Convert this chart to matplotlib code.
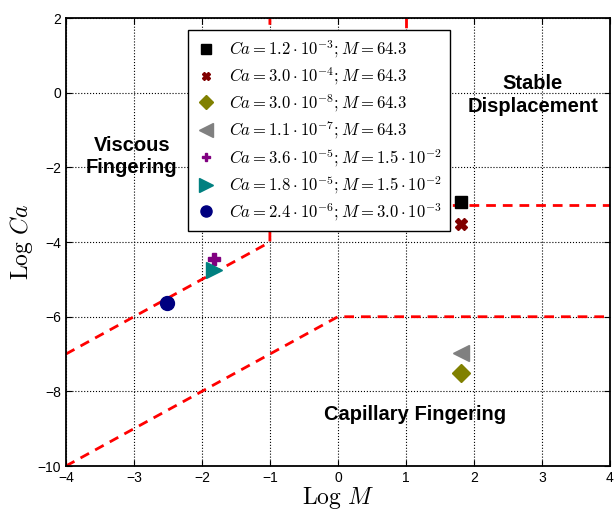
import numpy as np
import matplotlib.pyplot as plt

plt.rcParams['font.family'] = ['Liberation Sans', 'DejaVu Sans']
plt.rcParams['mathtext.fontset'] = 'cm'

# experiment points (log10 values)
logM = [1.81, 1.81, 1.81, 1.81, -1.82, -1.82, -2.52]
logCa = [-2.92, -3.52, -7.52, -6.96, -4.44, -4.74, -5.62]
labels = [r'$Ca = 1.2\cdot10^{-3}; M = 64.3$',
          r'$Ca = 3.0\cdot10^{-4}; M = 64.3$',
          r'$Ca = 3.0\cdot10^{-8}; M = 64.3$',
          r'$Ca = 1.1\cdot10^{-7}; M = 64.3$',
          r'$Ca = 3.6\cdot10^{-5}; M = 1.5\cdot10^{-2}$',
          r'$Ca = 1.8\cdot10^{-5}; M = 1.5\cdot10^{-2}$',
          r'$Ca = 2.4\cdot10^{-6}; M = 3.0\cdot10^{-3}$']
markers = ['s', 'X', 'D', '<', 'P', '>', 'o']
colors = ['black', '#800000', '#808000', '#808080', '#800080', '#008080', '#000080']
msizes = [9, 8, 9, 12, 8, 12, 10]

# regime boundaries
visc_x = [-4, -1, -1]
visc_y = [-7, -4, 2]
stab_x = [1, 1, 4]
stab_y = [2, -3, -3]
cap_x = [-4, 0, 4]
cap_y = [-10, -6, -6]

fig = plt.figure(figsize=(6.16, 5.13), dpi=100)
ax = fig.add_axes([0.107, 0.0916, 0.883, 0.873])

for bx, by in [(visc_x, visc_y), (stab_x, stab_y), (cap_x, cap_y)]:
    ax.plot(bx, by, color='red', ls='--', lw=2, dashes=(3.5, 2.5), zorder=2)

for i in range(len(logM)):
    ax.plot(logM[i], logCa[i], ls='none', marker=markers[i], color=colors[i],
            markersize=msizes[i], label=labels[i], zorder=3)

ax.text(-3.03, -1.72, 'Viscous\nFingering', ha='center', va='center',
        fontsize=14.5, fontweight='bold', linespacing=1.2)
ax.text(2.87, -0.06, 'Stable\nDisplacement', ha='center', va='center',
        fontsize=14.5, fontweight='bold', linespacing=1.25)
ax.text(1.14, -8.63, 'Capillary Fingering', ha='center', va='center',
        fontsize=14.5, fontweight='bold')

ax.set_xlim(-4, 4)
ax.set_ylim(-10, 2)
ax.set_xticks(np.arange(-4, 5, 1))
ax.set_yticks(np.arange(-10, 3, 2))
ax.grid(True, color='black', ls=':', lw=0.8)
ax.tick_params(direction='in', top=True, right=True, labelsize=10, length=4)
for s in ax.spines.values():
    s.set_linewidth(1.3)
ax.set_xlabel(r'$\mathrm{Log}\ M$', fontsize=17, labelpad=0)
ax.set_ylabel(r'$\mathrm{Log}\ Ca$', fontsize=17, labelpad=2)

leg = ax.legend(loc='upper left', bbox_to_anchor=(0.224, 0.973), fontsize=12,
                frameon=True, fancybox=False, edgecolor='black', framealpha=1,
                handlelength=1.2, labelspacing=0.3, borderpad=0.5, numpoints=1,
                markerscale=0.8, borderaxespad=0)
leg.get_frame().set_linewidth(1.0)
leg.set_zorder(5)

fig.savefig('out.png', dpi=100)
